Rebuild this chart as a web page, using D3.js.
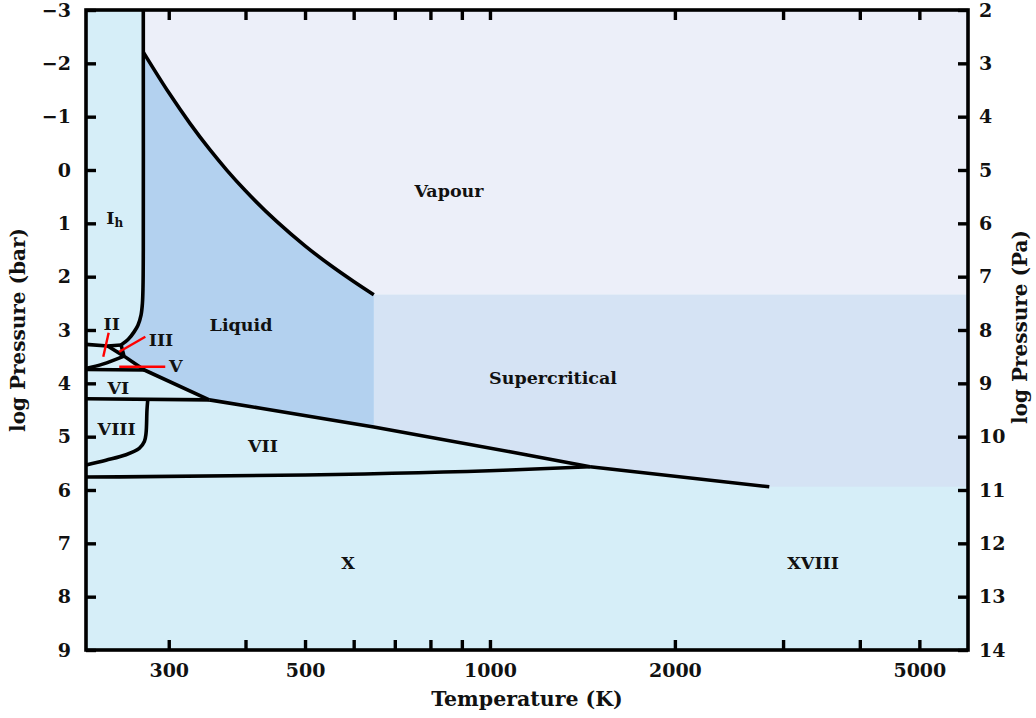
<!DOCTYPE html>
<html>
<head>
<meta charset="utf-8">
<script src="https://cdn.jsdelivr.net/npm/d3@7"></script>
<style>
  body { margin: 0; background: #ffffff; }
  svg text { font-family: "DejaVu Serif", serif; font-weight: bold; fill: #111111; }
</style>
</head>
<body>
<svg id="chart" width="1036" height="718"></svg>
<script>
// ---- Axis ticks ----
const tempTicks = [300, 400, 500, 600, 700, 800, 900, 1000, 2000, 3000, 4000, 5000];
const tempTickLabels = [300, 500, 1000, 2000, 5000];
const logPBarTicks = [-3, -2, -1, 0, 1, 2, 3, 4, 5, 6, 7, 8, 9];
const logPPaTicks = [2, 3, 4, 5, 6, 7, 8, 9, 10, 11, 12, 13, 14];

// ---- Phase boundaries: [temperature (K), log10 pressure (bar)] ----
const vapourCurve = [[272.7, -2.21], [300, -1.451], [325, -0.870], [350, -0.380], [373.15, 0.006],
  [400, 0.390], [450, 0.969], [500, 1.422], [550, 1.787], [600, 2.091], [647, 2.34]];
const iceIhLine = [[272.7, -3], [272.7, -2.21], [272.7, 1.5], [272.4, 2.2], [271.8, 2.5], [270.4, 2.72],
  [267.3, 2.91], [263.3, 3.04], [258.0, 3.17], [250.9, 3.28]];
const iceIhIILine = [[220, 3.27], [238.6, 3.30], [250.9, 3.28]];
const iceIIIIILine = [[238.6, 3.30], [253.7, 3.49]];
const iceIIVLine = [[220, 3.72], [234.2, 3.64], [253.7, 3.49]];
const iceVVILine = [[220, 3.74], [273.8, 3.75]];
const iceVIVIILine = [[220, 4.29], [349.2, 4.31]];
const iceVIIVIIILine = [[277.3, 4.31], [276.5, 4.50], [275.5, 4.94], [273.8, 5.09], [268.6, 5.22],
  [255.6, 5.34], [237.1, 5.44], [220, 5.53]];
const iceVIIXLine = [[220, 5.756], [500, 5.72], [1078, 5.625], [1455, 5.563]];
const meltLowLine = [[250.9, 3.28], [253.7, 3.49], [273.8, 3.75], [349.2, 4.31]];
const meltVIILine = [[349.2, 4.31], [406.8, 4.434], [647, 4.82], [1078, 5.282], [1455, 5.563]];
const meltXLine = [[1455, 5.563], [2849, 5.94]];
const criticalPoint = [647, 2.34];
const supercriticalFloor = 5.94;

// ---- Region labels ----
const phaseLabels = [
  { text: "Vapour", T: 857.6, p: 0.394 },
  { text: "Liquid", T: 393.3, p: 2.906 },
  { text: "Supercritical", T: 1266.7, p: 3.9 },
  { text: "II", T: 242.2, p: 2.874 },
  { text: "III", T: 291.4, p: 3.1875 },
  { text: "V", T: 307.9, p: 3.675 },
  { text: "VI", T: 248.3, p: 4.074 },
  { text: "VIII", T: 246.8, p: 4.856 },
  { text: "VII", T: 427.1, p: 5.175 },
  { text: "X", T: 587.4, p: 7.369 },
  { text: "XVIII", T: 3357.6, p: 7.369 }
];
const iceIhLabel = { T: 245, p: 0.9 };
const pointers = [
  [[239.5, 3.05], [234.7, 3.50]],
  [[274.8, 3.126], [249.2, 3.407]],
  [[249.2, 3.688], [296.1, 3.688]]
];

const colours = { ice: "#d6eef8", vapour: "#eceff9", liquid: "#b3d1ef", supercritical: "#d5e3f4" };

// ---- Layout ----
const svg = d3.select("#chart");
const plotLeft = 86, plotRight = 968, plotTop = 10, plotBottom = 650;
const tMin = 220, tMax = 6000, pMin = -3, pMax = 9;

const x = d3.scaleLog().domain([tMin, tMax]).range([plotLeft, plotRight]);
const y = d3.scaleLinear().domain([pMin, pMax]).range([plotTop, plotBottom]);
const yPa = d3.scaleLinear().domain([pMin + 5, pMax + 5]).range([plotTop, plotBottom]);

const lineX = d3.line().x(d => x(d[0])).y(d => y(d[1])).curve(d3.curveMonotoneX);
const lineSmooth = d3.line().x(d => x(d[0])).y(d => y(d[1])).curve(d3.curveCatmullRom.alpha(0.5));
const lineStraight = d3.line().x(d => x(d[0])).y(d => y(d[1]));

// Regions
svg.append("rect").attr("x", plotLeft).attr("y", plotTop)
  .attr("width", plotRight - plotLeft).attr("height", plotBottom - plotTop)
  .attr("fill", colours.ice);

const vapourRegion = [[iceIhLine[0][0], pMin], ...vapourCurve, [tMax, criticalPoint[1]], [tMax, pMin]];
svg.append("path").attr("d", lineStraight(vapourRegion) + "Z").attr("fill", colours.vapour);

const supercriticalRegion = [criticalPoint, [tMax, criticalPoint[1]], [tMax, supercriticalFloor],
  ...meltXLine.slice().reverse(), ...meltVIILine.filter(d => d[0] > criticalPoint[0]).reverse(),
  ...meltVIILine.filter(d => d[0] === criticalPoint[0])];
svg.append("path").attr("d", lineStraight(supercriticalRegion) + "Z").attr("fill", colours.supercritical);

const liquidRegion = [...vapourCurve,
  ...meltVIILine.filter(d => d[0] <= criticalPoint[0]).reverse(),
  ...meltLowLine.slice().reverse(),
  ...iceIhLine.slice(1).reverse()];
svg.append("path").attr("d", lineStraight(liquidRegion) + "Z").attr("fill", colours.liquid);

// Phase boundaries
const boundaries = svg.append("g").attr("fill", "none").attr("stroke", "#000")
  .attr("stroke-width", 3.6).attr("stroke-linejoin", "round");
[vapourCurve, iceIIVLine, meltVIILine, iceVIIXLine].forEach(d =>
  boundaries.append("path").attr("d", lineX(d)));
[iceIhLine, iceVIIVIIILine].forEach(d =>
  boundaries.append("path").attr("d", lineSmooth(d)));
[iceIhIILine, iceIIIIILine, iceVVILine, iceVIVIILine, meltLowLine, meltXLine].forEach(d =>
  boundaries.append("path").attr("d", lineStraight(d)));

// Label pointers
svg.append("g").selectAll("path").data(pointers).join("path")
  .attr("d", d => lineStraight(d)).attr("stroke", "#ff0000").attr("stroke-width", 2.4).attr("fill", "none");

// Region labels
svg.append("g").selectAll("text").data(phaseLabels).join("text")
  .attr("x", d => x(d.T)).attr("y", d => y(d.p)).attr("dy", "0.36em")
  .attr("text-anchor", "middle").attr("font-size", 17.5).text(d => d.text);
const ih = svg.append("text").attr("x", x(iceIhLabel.T)).attr("y", y(iceIhLabel.p)).attr("dy", "0.36em")
  .attr("text-anchor", "middle").attr("font-size", 17.5);
ih.append("tspan").text("I");
ih.append("tspan").attr("font-size", 12).attr("dy", "0.25em").text("h");

// Axes
const minus = v => (v < 0 ? "\u2212" + (-v) : String(v));
const styleAxis = g => {
  g.select(".domain").remove();
  g.selectAll(".tick line").attr("stroke", "#000").attr("stroke-width", 3.4);
  g.selectAll(".tick text").attr("font-size", 19).attr("fill", "#111")
    .style("font-family", "'DejaVu Serif', serif").style("font-weight", "bold");
};
svg.append("g").attr("transform", `translate(0,${plotBottom})`)
  .call(d3.axisBottom(x).tickValues(tempTicks).tickSizeInner(-10).tickSizeOuter(0).tickPadding(14)
    .tickFormat(d => (tempTickLabels.includes(d) ? String(d) : "")))
  .call(styleAxis);
svg.append("g").attr("transform", `translate(0,${plotTop})`)
  .call(d3.axisTop(x).tickValues(tempTicks).tickSizeInner(-10).tickSizeOuter(0).tickFormat(() => ""))
  .call(styleAxis);
svg.append("g").attr("transform", `translate(${plotLeft},0)`)
  .call(d3.axisLeft(y).tickValues(logPBarTicks).tickSizeInner(-10).tickSizeOuter(0).tickPadding(15).tickFormat(minus))
  .call(styleAxis);
svg.append("g").attr("transform", `translate(${plotRight},0)`)
  .call(d3.axisRight(yPa).tickValues(logPPaTicks).tickSizeInner(-10).tickSizeOuter(0).tickPadding(11).tickFormat(minus))
  .call(styleAxis);

// Frame
svg.append("rect").attr("x", plotLeft).attr("y", plotTop)
  .attr("width", plotRight - plotLeft).attr("height", plotBottom - plotTop)
  .attr("fill", "none").attr("stroke", "#000").attr("stroke-width", 3.6);

// Axis titles
svg.append("text").attr("x", (plotLeft + plotRight) / 2).attr("y", 706).attr("text-anchor", "middle")
  .attr("font-size", 20.5).text("Temperature (K)");
svg.append("text").attr("transform", `translate(25,${(plotTop + plotBottom) / 2}) rotate(-90)`)
  .attr("text-anchor", "middle").attr("font-size", 20).text("log Pressure (bar)");
svg.append("text").attr("transform", `translate(1027,${(plotTop + plotBottom) / 2 - 3}) rotate(-90)`)
  .attr("text-anchor", "middle").attr("font-size", 20).text("log Pressure (Pa)");
</script>
</body>
</html>
